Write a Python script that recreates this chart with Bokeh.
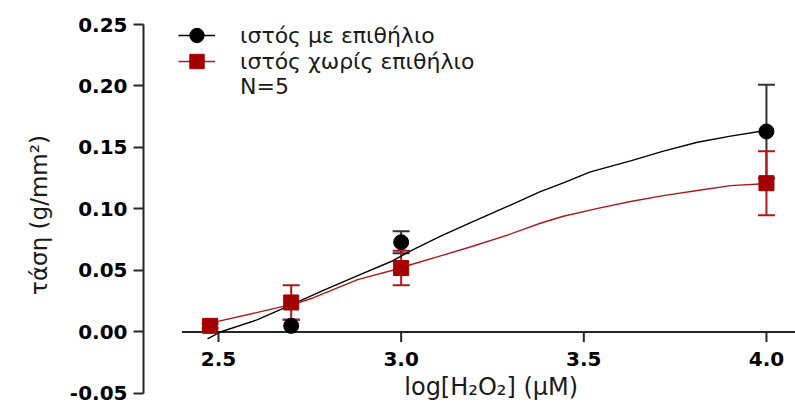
from bokeh.plotting import figure
from bokeh.models import (Range1d, LinearAxis, FixedTicker, Whisker, TeeHead,
                          ColumnDataSource, Legend, LegendItem)
from bokeh.core.properties import value
from bokeh.embed import file_html
from bokeh.resources import INLINE

# ---------------- data ----------------
x_with = [2.699, 3.0, 4.0]
y_with = [0.005, 0.073, 0.163]
err_with = [0.005, 0.009, 0.038]

x_without = [2.477, 2.699, 3.0, 4.0]
y_without = [0.005, 0.024, 0.052, 0.121]
err_without = [0.002, 0.014, 0.014, 0.026]

fit_with_x = [2.470, 2.505, 2.607, 2.702, 2.787, 2.881, 2.971, 3.026, 3.108, 3.198,
              3.291, 3.381, 3.444, 3.518, 3.628, 3.718, 3.811, 3.902, 4.0]
fit_with_y = [-0.0056, 0.0, 0.010, 0.0225, 0.0338, 0.0458, 0.0571, 0.0659, 0.0780, 0.0900,
              0.1021, 0.1141, 0.1212, 0.1302, 0.1391, 0.1471, 0.1543, 0.1592, 0.1640]
fit_without_x = [2.477, 2.607, 2.716, 2.752, 2.881, 3.0, 3.026, 3.108, 3.198, 3.291,
                 3.381, 3.444, 3.538, 3.628, 3.718, 3.811, 3.902, 4.0]
fit_without_y = [0.0072, 0.016, 0.0235, 0.027, 0.0426, 0.052, 0.0547, 0.0619, 0.0699, 0.0788,
                 0.0884, 0.0941, 0.1005, 0.1061, 0.1109, 0.1150, 0.1190, 0.1206]

series_labels = ["ιστός με επιθήλιο", "ιστός χωρίς επιθήλιο", "N=5"]

x_ticks = [2.5, 3.0, 3.5, 4.0]
x_tick_labels = ["2.5", "3.0", "3.5", "4.0"]
y_ticks = [-0.05, 0.0, 0.05, 0.10, 0.15, 0.20, 0.25]
y_tick_labels = ["-0.05", "0.00", "0.05", "0.10", "0.15", "0.20", "0.25"]

x_title = "log[H\u2082O\u2082] (\u03bcM)"
y_title = "τάση (g/mm\u00b2)"

# ---------------- styling / layout ----------------
FONT = "DejaVu Sans"
BLACK = "#000000"
AXIS = "#262626"
TEXT = "#1a1a1a"
RED = "#a50000"
RED_LINE = "#b01818"

X_START, X_END = 2.2947, 4.0795
Y_START, Y_END = -0.05976, 0.25
Y_AXIS_BOUNDS = (-0.05, 0.25)
XAXIS_START, XAXIS_END = 2.40, 4.093
TICK_LEN = 0.0082

p = figure(width=795, height=405, output_backend="svg", toolbar_location=None,
           x_range=Range1d(X_START, X_END), y_range=Range1d(Y_START, Y_END),
           x_axis_type=None, y_axis_type=None,
           min_border_left=143, min_border_right=0,
           min_border_top=24, min_border_bottom=0)
p.outline_line_color = None
p.background_fill_color = "white"
p.border_fill_color = "white"

yaxis = LinearAxis(
    ticker=FixedTicker(ticks=y_ticks),
    bounds=Y_AXIS_BOUNDS,
    major_label_overrides={t: l for t, l in zip(y_ticks, y_tick_labels)},
    axis_label=y_title,
    axis_label_text_font=FONT, axis_label_text_font_size="23px",
    axis_label_text_font_style="normal", axis_label_text_color=TEXT,
    axis_label_standoff=15,
    major_label_text_font=FONT, major_label_text_font_style="bold",
    major_label_text_font_size="20px", major_label_text_color=BLACK,
    major_label_standoff=6,
    major_tick_out=10, major_tick_in=0, minor_tick_out=0, minor_tick_in=0,
    axis_line_width=2, axis_line_color=AXIS,
    major_tick_line_width=2, major_tick_line_color=AXIS)
p.add_layout(yaxis, "left")

# manual x axis drawn at y = 0
p.segment(x0=[XAXIS_START], y0=[0], x1=[XAXIS_END], y1=[0],
          line_color=AXIS, line_width=2)
p.segment(x0=x_ticks, y0=[0] * len(x_ticks), x1=x_ticks,
          y1=[-TICK_LEN] * len(x_ticks), line_color=AXIS, line_width=2)
p.text(x=x_ticks, y=[0] * len(x_ticks), text=x_tick_labels,
       text_align="center", text_baseline="middle", y_offset=27,
       text_font=value(FONT), text_font_style="bold",
       text_font_size="20px", text_color=BLACK)
p.text(x=[(XAXIS_START + XAXIS_END) / 2], y=[0], text=[x_title],
       text_align="center", text_baseline="middle", y_offset=55,
       text_font=value(FONT), text_font_size="24px", text_color=TEXT)

# fitted curves
black_line = p.line(fit_with_x, fit_with_y, line_color=BLACK, line_width=1.4)
red_line = p.line(fit_without_x, fit_without_y, line_color=RED_LINE, line_width=1.4)

# error bars
src_with = ColumnDataSource(dict(
    x=x_with,
    upper=[y + e for y, e in zip(y_with, err_with)],
    lower=[y - e for y, e in zip(y_with, err_with)]))
src_without = ColumnDataSource(dict(
    x=x_without,
    upper=[y + e for y, e in zip(y_without, err_without)],
    lower=[y - e for y, e in zip(y_without, err_without)]))

p.add_layout(Whisker(base="x", upper="upper", lower="lower", source=src_with,
                     line_color="#333333", line_width=2,
                     upper_head=TeeHead(size=17, line_color="#333333", line_width=2),
                     lower_head=TeeHead(size=17, line_color="#333333", line_width=2)))
p.add_layout(Whisker(base="x", upper="upper", lower="lower", source=src_without,
                     line_color=RED_LINE, line_width=2,
                     upper_head=TeeHead(size=17, line_color=RED_LINE, line_width=2),
                     lower_head=TeeHead(size=17, line_color=RED_LINE, line_width=2)))

black_pts = p.scatter(x_with, y_with, marker="circle", size=15,
                      fill_color=BLACK, line_color=BLACK)
red_pts = p.scatter(x_without, y_without, marker="square", size=15,
                    fill_color=RED, line_color=RED)

dummy = p.scatter(x=[], y=[], marker="circle", size=1, fill_alpha=0, line_alpha=0)

legend_style = dict(glyph_width=37, glyph_height=36, label_height=36,
                    spacing=0, padding=0, margin=0, label_standoff=25,
                    border_line_color=None, background_fill_alpha=0,
                    label_text_font=FONT, label_text_font_size="22px",
                    label_text_color=TEXT)
for item_renderers, label, loc in [([black_line, black_pts], series_labels[0], (35, 352)),
                                   ([red_line, red_pts], series_labels[1], (35, 326)),
                                   ([dummy], series_labels[2], (35, 301))]:
    p.add_layout(Legend(items=[LegendItem(label=label, renderers=item_renderers)],
                        location=loc, **legend_style), "center")

open("out.html", "w").write(file_html(p, INLINE))
